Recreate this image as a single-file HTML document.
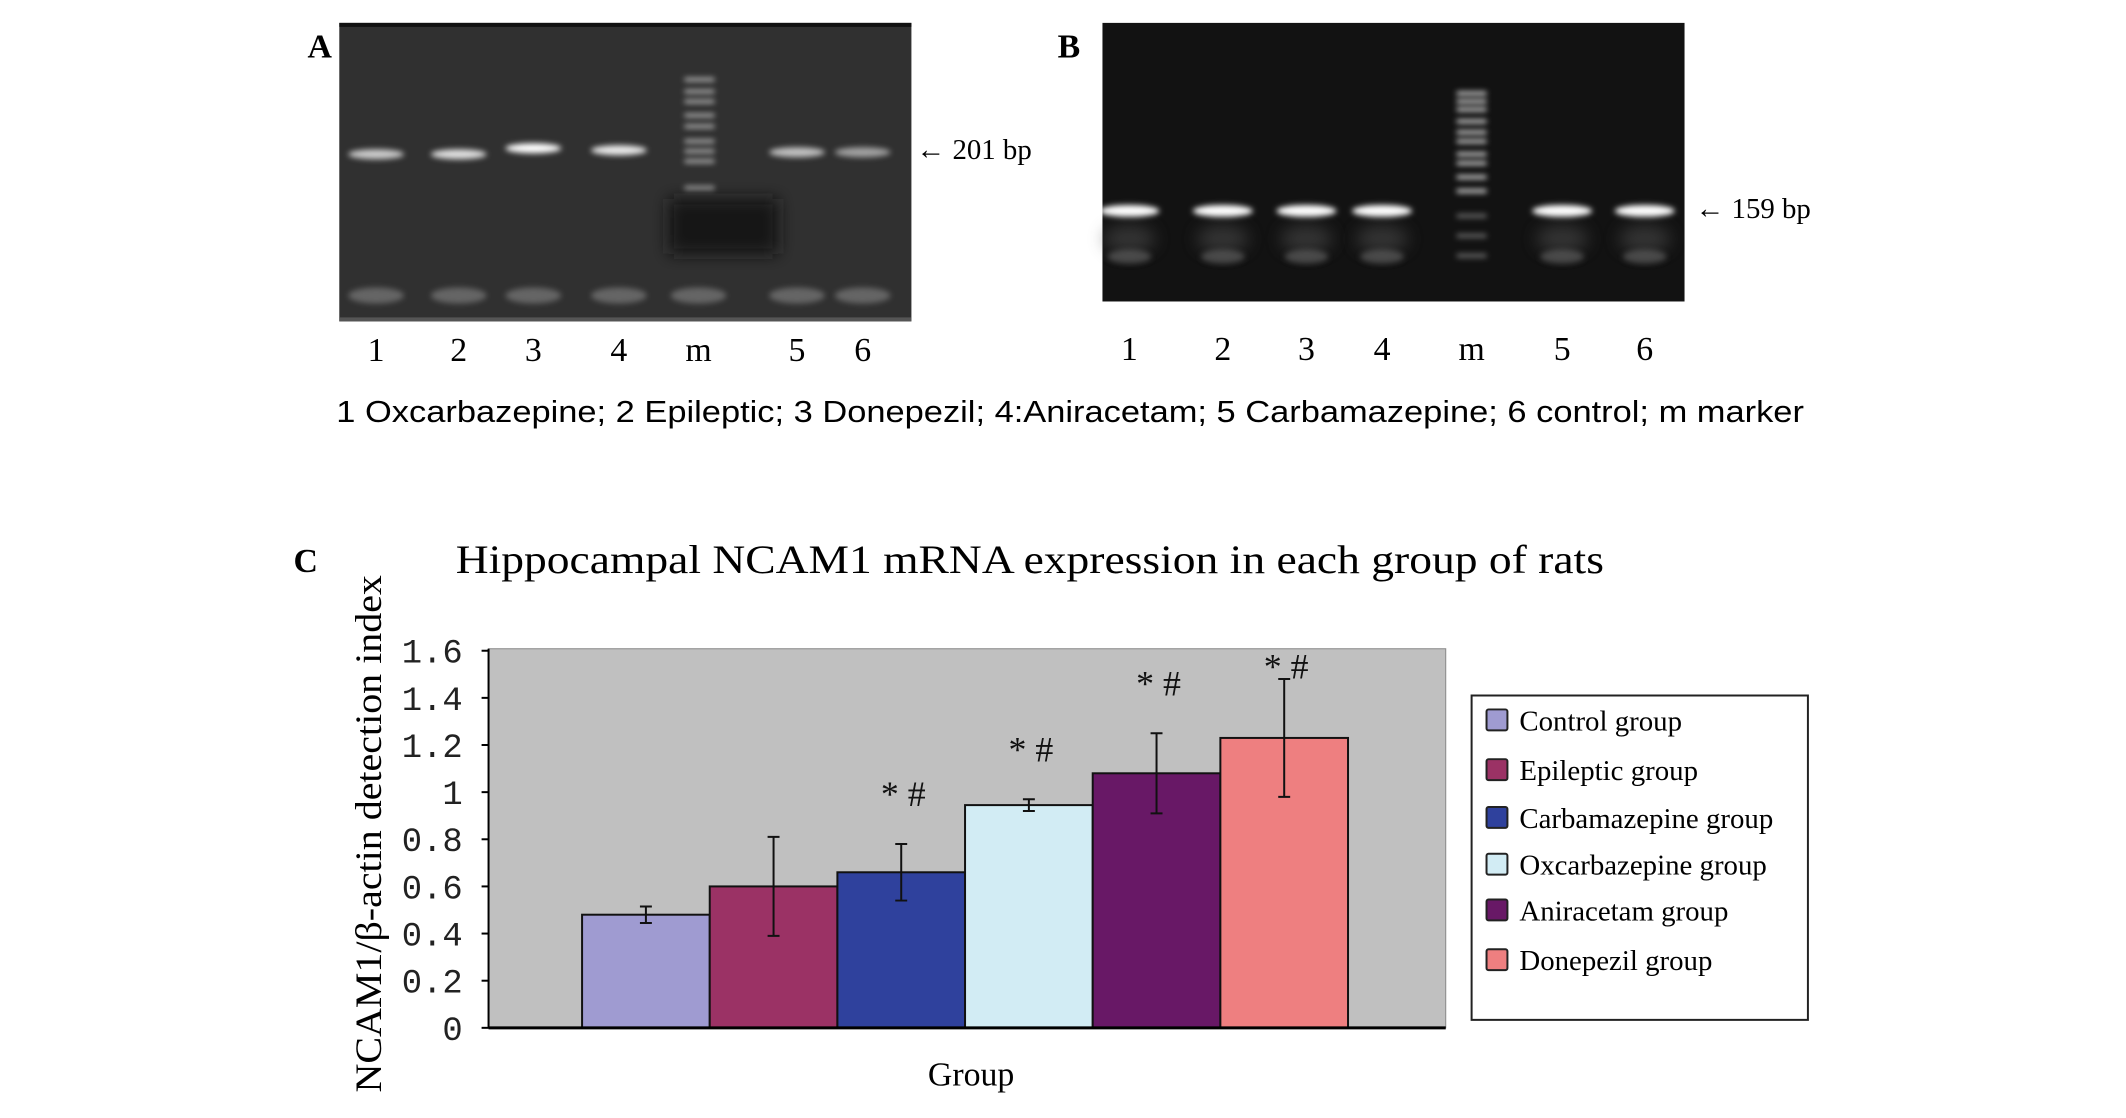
<!DOCTYPE html>
<html><head><meta charset="utf-8"><style>
html,body{margin:0;padding:0;background:#fff;}
svg{display:block;}
</style></head><body>
<svg width="2126" height="1118" viewBox="0 0 2126 1118" xmlns="http://www.w3.org/2000/svg">
<defs>
<filter id="blur3" x="-50%" y="-200%" width="200%" height="500%"><feGaussianBlur stdDeviation="3"/></filter>
<filter id="blur8" x="-50%" y="-100%" width="200%" height="300%"><feGaussianBlur stdDeviation="8"/></filter>
</defs>
<g transform="scale(0.995)">
<g id="gels"></g>
<text x="309" y="58" font-family="Liberation Serif, serif" font-weight="bold" font-size="34">A</text>
<text x="1063" y="58" font-family="Liberation Serif, serif" font-weight="bold" font-size="34">B</text>
<text x="338" y="424" font-family="Liberation Sans, sans-serif" font-size="31" textLength="1475" lengthAdjust="spacingAndGlyphs">1 Oxcarbazepine;  2 Epileptic;  3 Donepezil; 4:Aniracetam; 5 Carbamazepine;   6 control; m marker</text>
<text x="295" y="575" font-family="Liberation Serif, serif" font-weight="bold" font-size="34">C</text>
<text x="458" y="576" font-family="Liberation Serif, serif" font-size="40" textLength="1154" lengthAdjust="spacingAndGlyphs">Hippocampal NCAM1 mRNA expression in each group of rats</text>
<g id="chart"></g>
</g>
</svg>
<script>
// ---- chart data ----
const groups = ["Control group","Epileptic group","Carbamazepine group","Oxcarbazepine group","Aniracetam group","Donepezil group"];
const means = [0.48, 0.60, 0.66, 0.945, 1.08, 1.23];
const errs = [0.035, 0.21, 0.12, 0.025, 0.17, 0.25];
const marks = ["", "", "* #", "* #", "* #", "* #"];
const yTicks = [0, 0.2, 0.4, 0.6, 0.8, 1, 1.2, 1.4, 1.6];
const yTickLabels = ["0","0.2","0.4","0.6","0.8","1","1.2","1.4","1.6"];
const colors = ["#9f9bd1","#9b3265","#2f419d","#d2ecf4","#681866","#ee7f80"];
// gel lane labels
const laneLabelsA = ["1","2","3","4","m","5","6"];
const laneLabelsB = ["1","2","3","4","m","5","6"];

const NS = "http://www.w3.org/2000/svg";
function mk(tag, attrs, parent){const e=document.createElementNS(NS,tag);for(const k in attrs)e.setAttribute(k,attrs[k]);parent.appendChild(e);return e;}

// ---- gels ----
const gels = document.getElementById('gels');
let r = mk('rect',{x:341,y:23,width:575,height:300,fill:'#303030'},gels);


mk('rect',{x:341,y:23,width:575,height:4,fill:'#111'},gels);
mk('rect',{x:341,y:319,width:575,height:4,fill:'#555'},gels);
const laneXA=[378,461,536,622,702,801,867];
const bandIntA=[0.75,0.85,1,0.9,0,0.7,0.55];
const bandYA=[155,155,149,151,0,153,153];
laneXA.forEach((x,i)=>{
  if(i!==4){
    const b=mk('ellipse',{cx:x,cy:bandYA[i],rx:28,ry:5,fill:'#fff',opacity:bandIntA[i],filter:'url(#blur3)'},gels);
    
    
  }
  mk('ellipse',{cx:x,cy:297,rx:28,ry:8,fill:'#9a9a9a',opacity:0.5,filter:'url(#blur3)'},gels);
});
[78,90,100,114,125,140,150,160,187].forEach(y=>mk('rect',{x:688,y:y,width:30,height:4,fill:'#ccc',opacity:0.8,filter:'url(#blur3)'},gels));
mk('rect',{x:672,y:200,width:110,height:55,fill:'#181818',filter:'url(#blur8)'},gels);
laneLabelsA.forEach((t,i)=>{const e=mk('text',{x:laneXA[i],y:363,'text-anchor':'middle','font-family':'Liberation Serif, serif','font-size':34},gels);e.textContent=t;

});
mk('text',{x:921,y:160,'font-family':'Liberation Serif, serif','font-size':29},gels).textContent='\u2190 201 bp';
r = mk('rect',{x:1108,y:23,width:585,height:280,fill:'#121212'},gels);


const laneXB=[1135,1229,1313,1389,1479,1570,1653];
laneXB.forEach((x,i)=>{
  if(i!==4){
    const b=mk('ellipse',{cx:x,cy:212,rx:30,ry:6,fill:'#fff',filter:'url(#blur3)'},gels);
    
    
    mk('ellipse',{cx:x,cy:240,rx:26,ry:14,fill:'#555',opacity:0.5,filter:'url(#blur8)'},gels);
    mk('ellipse',{cx:x,cy:258,rx:22,ry:7,fill:'#777',opacity:0.5,filter:'url(#blur3)'},gels);
  }
});
[92,100,108,120,131,140,153,162,176,190,215,235,255].forEach(y=>mk('rect',{x:1464,y:y,width:30,height:4,fill:'#eee',opacity:y>200?0.4:0.85,filter:'url(#blur3)'},gels));
laneLabelsB.forEach((t,i)=>{const e=mk('text',{x:laneXB[i],y:362,'text-anchor':'middle','font-family':'Liberation Serif, serif','font-size':34},gels);e.textContent=t;

});
mk('text',{x:1704,y:219,'font-family':'Liberation Serif, serif','font-size':29},gels).textContent='\u2190 159 bp';

// ---- chart ----
const ch = document.getElementById('chart');
const plotL=491, plotR=1453, plotT=652, plotB=1033;
const yMin=0, yMax=1.6, yTop=654;
function yScale(v){return plotB-(v-yMin)/(yMax-yMin)*(plotB-yTop);}
const barL=585, barW=128.3;
function xScale(i){return barL+i*barW;}
let bg=mk('rect',{x:plotL,y:plotT,width:plotR-plotL,height:plotB-plotT,fill:'#c0c0c0',stroke:'#888','stroke-width':1},ch);


mk('line',{x1:plotL,y1:plotT,x2:plotL,y2:plotB,stroke:'#000','stroke-width':2},ch);
yTicks.forEach((v,i)=>{
  const y=yScale(v);
  mk('line',{x1:plotL-7,y1:y,x2:plotL,y2:y,stroke:'#000','stroke-width':2},ch);
  const t=mk('text',{x:plotL-26,y:y+12,'text-anchor':'end','font-family':'Liberation Mono, monospace','font-size':34,fill:'#222'},ch);
  t.textContent=yTickLabels[i];
  
  
});
means.forEach((m,i)=>{
  const x=xScale(i), y=yScale(m);
  const b=mk('rect',{x:x,y:y,width:barW,height:plotB-y,fill:colors[i],stroke:'#111','stroke-width':2},ch);
  
  
  const cx=x+barW/2, y1=yScale(m+errs[i]), y2=yScale(m-errs[i]);
  const eb=mk('path',{d:`M${cx},${y1}V${y2}M${cx-6},${y1}H${cx+6}M${cx-6},${y2}H${cx+6}`,stroke:'#111','stroke-width':2,fill:'none'},ch);
  
  
  if(marks[i]){
    const a=mk('text',{x:cx+2,y:Math.max(y1-38,682),'text-anchor':'middle','font-family':'Liberation Serif, serif','font-size':36,fill:'#111'},ch);
    a.textContent=marks[i];
    
    
  }
});
mk('line',{x1:plotL,y1:plotB,x2:plotR,y2:plotB,stroke:'#000','stroke-width':3},ch);
let xt=mk('text',{x:976,y:1091,'text-anchor':'middle','font-family':'Liberation Serif, serif','font-size':34},ch);
xt.textContent='Group';


let yt=mk('text',{x:0,y:0,'text-anchor':'middle','font-family':'Liberation Serif, serif','font-size':37,transform:'translate(383,838) rotate(-90)',textLength:520,lengthAdjust:'spacingAndGlyphs'},ch);
yt.textContent='NCAM1/\u03B2-actin detection index';


const lg=mk('g',{},ch);


mk('rect',{x:1479,y:699,width:338,height:326,fill:'#fff',stroke:'#222','stroke-width':2},lg);
const legY=[724,774,822,869,915,965];
groups.forEach((g,i)=>{
  const e=mk('g',{},lg);
  
  
  mk('rect',{x:1494,y:legY[i]-11,width:21,height:21,fill:colors[i],stroke:'#222','stroke-width':2,rx:2},e);
  const t=mk('text',{x:1527,y:legY[i]+10,'font-family':'Liberation Serif, serif','font-size':29},e);
  t.textContent=g;
});
</script>
</body></html>
